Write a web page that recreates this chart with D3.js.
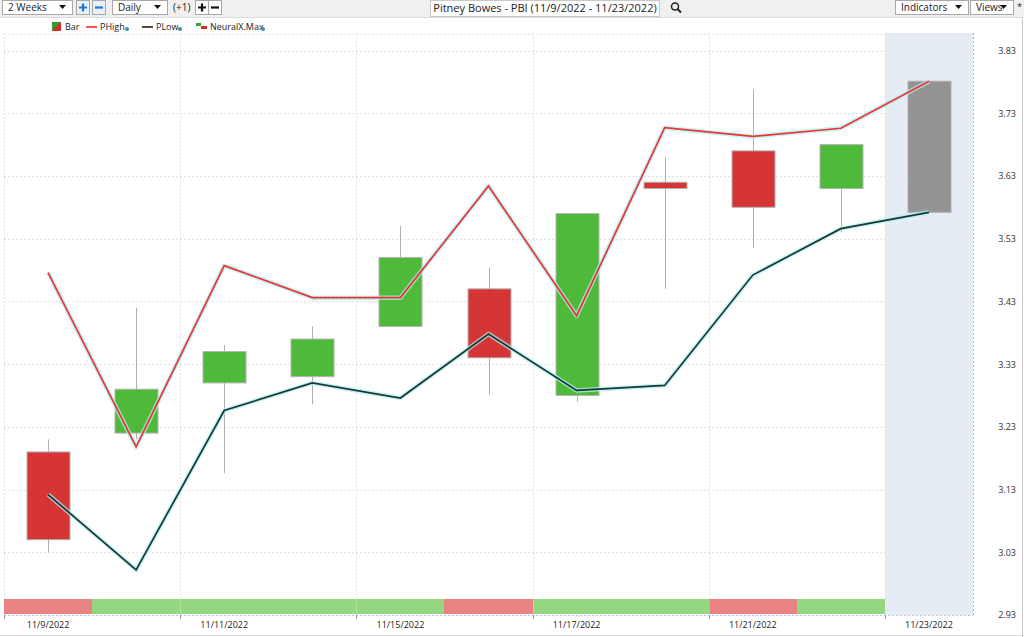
<!DOCTYPE html>
<html><head><meta charset="utf-8">
<script src="https://cdn.jsdelivr.net/npm/d3@7"></script>
<style>
html,body{margin:0;padding:0;background:#fff;}
svg{display:block;font-family:"Open Sans","Noto Sans",sans-serif;}
</style></head>
<body><svg id="c" width="1024" height="637"></svg>
<script>
const dates = ["11/9/2022","11/10/2022","11/11/2022","11/14/2022","11/15/2022","11/16/2022","11/17/2022","11/18/2022","11/21/2022","11/22/2022","11/23/2022"];
const openV  = [3.19, 3.22, 3.30, 3.31, 3.39, 3.45, 3.28, 3.62, 3.67, 3.61, null];
const highV  = [3.21, 3.42, 3.36, 3.39, 3.55, 3.484, 3.57, 3.66, 3.768, 3.68, null];
const lowV   = [3.03, 3.21, 3.156, 3.266, 3.39, 3.281, 3.27, 3.45, 3.515, 3.54, null];
const closeV = [3.05, 3.29, 3.35, 3.37, 3.50, 3.34, 3.57, 3.61, 3.58, 3.68, null];
const pHigh  = [3.476, 3.198, 3.487, 3.436, 3.436, 3.614, 3.407, 3.707, 3.693, 3.706, 3.781];
const pLow   = [3.122, 3.002, 3.256, 3.300, 3.276, 3.378, 3.288, 3.296, 3.472, 3.546, 3.572];
const neural = ["down","up","up","up","up","down","up","up","down","up", null];
const yTicks = [2.93, 3.03, 3.13, 3.23, 3.33, 3.43, 3.53, 3.63, 3.73, 3.83];
const xLabels = ["11/9/2022","11/11/2022","11/15/2022","11/17/2022","11/21/2022","11/23/2022"];

const svg = d3.select("#c");
const L = 4, R = 973, T = 33, B = 615;
const x = d3.scaleBand().domain(dates).range([L, R]).padding(0);
const y = d3.scaleLinear().domain([2.93, 3.83]).range([615, 50.5]);
const bw = x.bandwidth();
const cx = d => x(d) + bw / 2;

// toolbar
svg.append("rect").attr("x",0).attr("y",0).attr("width",1024).attr("height",17).attr("fill","#f0f0f0");
svg.append("line").attr("x1",0).attr("x2",1024).attr("y1",17.5).attr("y2",17.5).attr("stroke","#dcdcdc");
function dropdown(x0, w, label){
  svg.append("rect").attr("x",x0+0.5).attr("y",0.5).attr("width",w).attr("height",14).attr("fill","#fff").attr("stroke","#a8a8a8");
  svg.append("text").attr("x",x0+6).attr("y",11).attr("font-size",10).attr("fill","#222").text(label);
  svg.append("path").attr("d",`M${x0+w-13},5 h7 l-3.5,4 z`).attr("fill","#111");
}
dropdown(2, 70, "2 Weeks");
dropdown(112, 55, "Daily");
function btn(x0, sign, col, bg){
  svg.append("rect").attr("x",x0+0.5).attr("y",0.5).attr("width",13).attr("height",14).attr("fill",bg).attr("stroke","#a8a8a8");
  if(sign==="+") svg.append("path").attr("d",`M${x0+3},7.5 h8 M${x0+7},3.5 v8`).attr("stroke",col).attr("stroke-width",2.2);
  else svg.append("path").attr("d",`M${x0+3},7.5 h8`).attr("stroke",col).attr("stroke-width",2.2);
}
btn(76,"+","#1e7bd0","#e8f0fa"); btn(92,"-","#1e7bd0","#e8f0fa");
svg.append("text").attr("x",173).attr("y",11).attr("font-size",10).attr("fill","#222").text("(+1)");
btn(195,"+","#111","#fff"); btn(208,"-","#111","#fff");
svg.append("rect").attr("x",430.5).attr("y",0.5).attr("width",229).attr("height",16).attr("fill","#fff").attr("stroke","#c8c8c8");
svg.append("text").attr("x",545).attr("y",12).attr("text-anchor","middle").attr("font-size",11).attr("fill","#222").text("Pitney Bowes - PBI (11/9/2022 - 11/23/2022)");
svg.append("circle").attr("cx",675).attr("cy",6.5).attr("r",3.5).attr("fill","none").attr("stroke","#222").attr("stroke-width",1.5);
svg.append("line").attr("x1",677.5).attr("y1",9).attr("x2",681).attr("y2",12.5).attr("stroke","#222").attr("stroke-width",2);
dropdown(895, 73, "Indicators");
dropdown(970, 43, "Views");
svg.append("text").attr("x",1017).attr("y",10).attr("font-size",9).attr("fill","#222").text("*");

// legend
const lg = svg.append("g").attr("font-size",9).attr("fill","#222");
lg.append("path").attr("d","M52,22 h9 v9 h-9 z").attr("fill","#3a9a30");
lg.append("path").attr("d","M61,22 v9 h-9 z").attr("fill","#d42a2a");
lg.append("text").attr("x",65).attr("y",30).text("Bar");
lg.append("line").attr("x1",86).attr("x2",97).attr("y1",27).attr("y2",27).attr("stroke","#ff1a1a").attr("stroke-width",1.5);
lg.append("text").attr("x",100).attr("y",30).text("PHigh");
lg.append("circle").attr("cx",127).attr("cy",29).attr("r",2).attr("fill","#3f8fa8");
lg.append("line").attr("x1",142).attr("x2",153).attr("y1",27).attr("y2",27).attr("stroke","#111").attr("stroke-width",1.5);
lg.append("text").attr("x",156).attr("y",30).text("PLow");
lg.append("circle").attr("cx",180).attr("cy",29).attr("r",2).attr("fill","#3f8fa8");
lg.append("path").attr("d","M196,23 h5 v3 h-5 z").attr("fill","#2fa82f");
lg.append("path").attr("d","M201,26 h6 v3 h-6 z").attr("fill","#d42a2a");
lg.append("text").attr("x",210).attr("y",30).text("NeuralX.Max");
lg.append("circle").attr("cx",263).attr("cy",29).attr("r",2).attr("fill","#3f8fa8");

// forecast shaded area
const last = dates[dates.length-1];
svg.append("rect").attr("x",x(last)).attr("y",T).attr("width",bw).attr("height",B-T).attr("fill","#e6ecf4");
svg.append("line").attr("x1",R+0.5).attr("x2",R+0.5).attr("y1",T).attr("y2",B).attr("stroke","#9fbbe0").attr("stroke-dasharray","2,2");

// grid
const grid = svg.append("g").attr("stroke","#e2e2e2").attr("stroke-dasharray","2,2");
yTicks.concat([3.857]).forEach(v=>{
  grid.append("line").attr("x1",L).attr("x2",R).attr("y1",Math.round(y(v))+0.5).attr("y2",Math.round(y(v))+0.5);
});
dates.forEach((d,i)=>{ if(i%2===0) grid.append("line").attr("x1",Math.round(x(d))+0.5).attr("x2",Math.round(x(d))+0.5).attr("y1",T).attr("y2",B); });

// right axis
const ya = d3.axisRight(y).tickValues(yTicks).tickFormat(d3.format(".2f")).tickSize(0);
const yg = svg.append("g").attr("transform",`translate(${1016},0)`).call(ya);
yg.select(".domain").remove();
yg.selectAll("text").attr("x",0).attr("text-anchor","end").attr("font-size",9).attr("fill","#333").attr("font-family","'Open Sans',sans-serif");
svg.append("line").attr("x1",1022.5).attr("x2",1022.5).attr("y1",18).attr("y2",637).attr("stroke","#c8c8c8");

// NeuralX strip (merge contiguous runs to avoid seams)
let runs = [];
neural.forEach((n,i)=>{
  if(!n) return;
  const r = runs[runs.length-1];
  if(r && r.v===n && r.end===i-1) r.end=i; else runs.push({v:n,start:i,end:i});
});
runs.forEach(r=>{
  const x0 = Math.round(x(dates[r.start])), x1 = Math.round(x(dates[r.end]) + bw);
  svg.append("rect").attr("x",x0).attr("y",599).attr("width",x1-x0).attr("height",15)
    .attr("fill", r.v==="up" ? "#95d680" : "#e98383");
});
dates.forEach((d,i)=>{ if(i%2===0 && i>0) svg.append("line").attr("x1",Math.round(x(d))+0.5).attr("x2",Math.round(x(d))+0.5).attr("y1",599).attr("y2",614).attr("stroke","#ffffff").attr("stroke-opacity",0.25); });

// bottom axis
const xa = d3.axisBottom(x).tickValues(xLabels).tickSize(0);
const xg = svg.append("g").attr("transform",`translate(0,${B})`).call(xa);
xg.select(".domain").remove();
xg.selectAll("text").attr("y",7).attr("font-size",9).attr("fill","#222").attr("font-family","'Open Sans',sans-serif");
svg.append("line").attr("x1",L).attr("x2",R).attr("y1",B+0.5).attr("y2",B+0.5).attr("stroke","#b8c8dc").attr("stroke-dasharray","2,2");
dates.forEach((d,i)=>{ if(i%2===0) svg.append("line").attr("x1",Math.round(x(d))+0.5).attr("x2",Math.round(x(d))+0.5).attr("y1",B).attr("y2",B+4).attr("stroke","#999"); });
svg.append("line").attr("x1",0).attr("x2",1024).attr("y1",635.5).attr("y2",635.5).attr("stroke","#dcdcdc");

// candles
const cw = 43;
const cg = svg.append("g");
dates.forEach((d,i)=>{
  const xc = Math.round(cx(d)) + 0.5;
  if(openV[i]===null){
    cg.append("rect").attr("x",xc-cw/2).attr("width",cw).attr("y",y(pHigh[i])).attr("height",y(pLow[i])-y(pHigh[i]))
      .attr("fill","#8e8e8e").attr("fill-opacity",0.95).attr("stroke","#b0b0b0");
    return;
  }
  cg.append("line").attr("x1",xc).attr("x2",xc).attr("y1",y(highV[i])).attr("y2",y(lowV[i])).attr("stroke","#b0b0b0");
  const up = closeV[i] >= openV[i];
  const top = y(Math.max(openV[i],closeV[i])), bot = y(Math.min(openV[i],closeV[i]));
  cg.append("rect").attr("x",xc-cw/2).attr("width",cw).attr("y",top).attr("height",Math.max(bot-top,2))
    .attr("fill", up ? "#46b52f" : "#d42a2a").attr("fill-opacity",0.95).attr("stroke","#b4b4b4");
});

// lines with glow
const line = d3.line().x((v,i)=>cx(dates[i])).y(v=>y(v));
[[pHigh,"#ff1a1a"],[pLow,"#0f1f1f"]].forEach(([data,col])=>{
  svg.append("path").attr("d",line(data)).attr("fill","none").attr("stroke","#a8f2f2").attr("stroke-width",4.5).attr("stroke-linejoin","round").attr("opacity",0.75);
  svg.append("path").attr("d",line(data)).attr("fill","none").attr("stroke",col).attr("stroke-width",1.7).attr("stroke-linejoin","miter").attr("opacity",0.9);
});
</script></body></html>
